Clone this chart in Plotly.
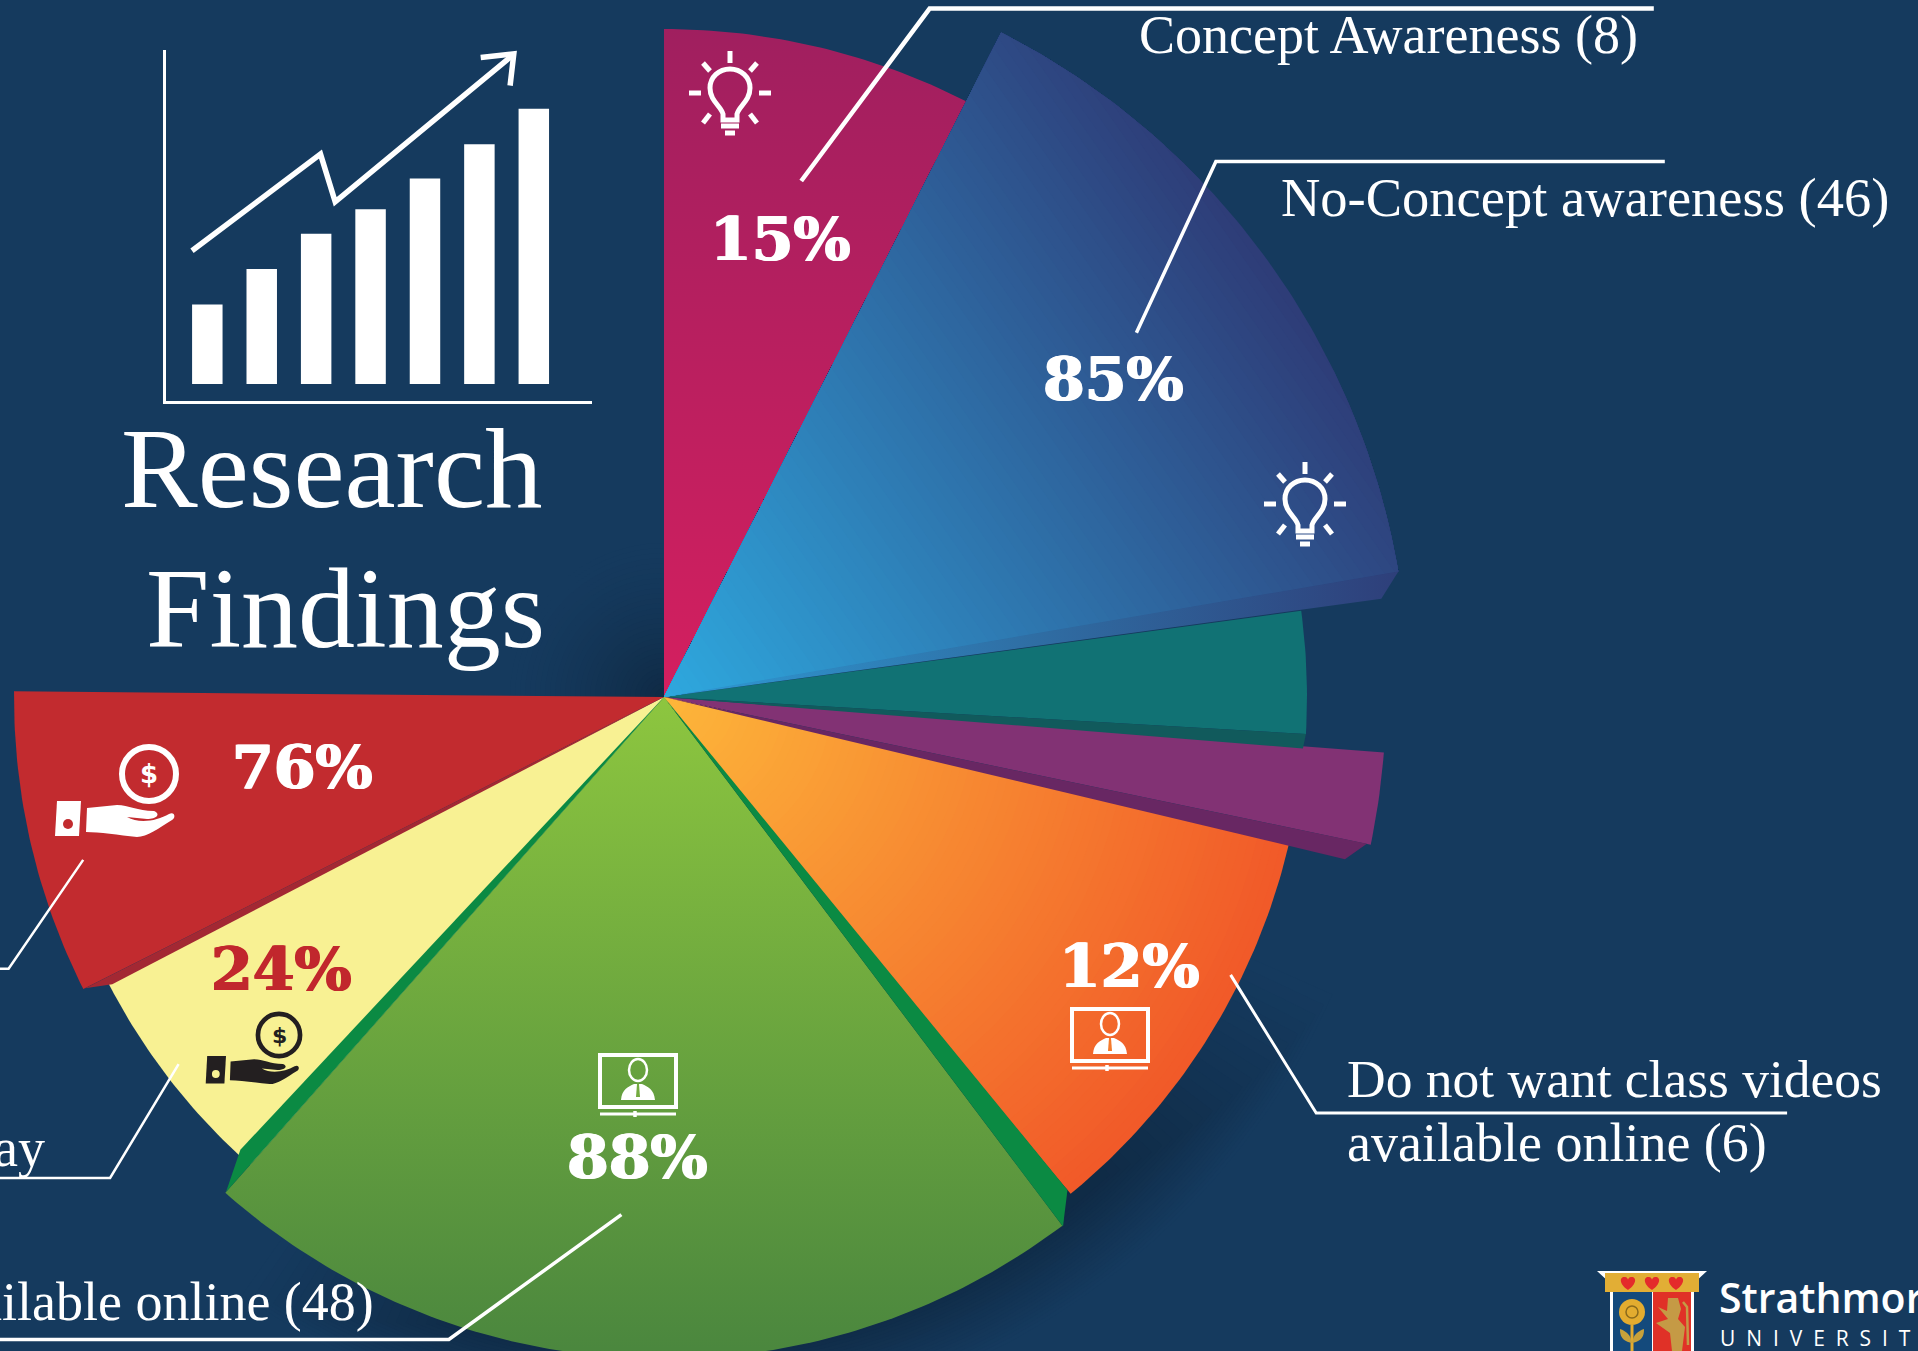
import math
import plotly.graph_objects as go

W, H = 1918, 1351
K = 1918 / 1568  # reduced-view units to page units
CX, CY = 664, 697

# ---- data -----------------------------------------------------------------
slice_names = ["Concept Awareness", "No-Concept awareness", "Teal", "Purple",
               "Do not want class videos", "Want class videos", "Pay", "Red"]
slice_start = [0.0, 26.9, 82.3, 94.4, 102.5, 143.0, 221.5, 243.3]
slice_end = [27.5, 80.3, 93.3, 101.8, 140.7, 221.5, 243.0, 270.5]
slice_radius = [668, 745, 643, 722, 642, 662, 625, 650]
slice_inner = ["#d41f5f", "#2ea9df", "#117274", "#823274", "#fdb73a", "#8dc63f", "#f8f193", "#c22b2f"]
slice_outer = ["#a01f5f", "#2e3d78", "#117274", "#823274", "#f15a29", "#4a863e", "#f8f193", "#c22b2f"]
draw_order = [0, 4, 6, 3, 2, 1, 7, 5]

# Darker side faces: (angle, radius) pairs at the rim, with colour
side_a0 = [80.3, 93.3, 101.8, 243.3, 140.7, 221.5]
side_r0 = [745, 643, 718, 648, 637, 661]
side_a1 = [82.2, 94.6, 103.4, 242.5, 143.0, 223.1]
side_r1 = [724, 641, 700, 622, 663, 620]
side_col = ["#2e4f88", "#115a5c", "#682763", "#a32833", "#0b8a43", "#0b8a43"]

bar_values = [65, 94, 123, 143, 168, 196, 225]
bar_cats = [1, 2, 3, 4, 5, 6, 7]

pct_labels = ["15%", "85%", "76%", "24%", "12%", "88%"]
pct_x = [638, 910, 247, 230, 923, 521]
pct_y = [195, 310, 627, 792, 790, 946]
pct_col = ["white", "white", "white", "#c1272d", "white", "white"]

BG = "#153a5e"
SHADE = "#0f2a45"
SERIF = "Liberation Serif"


def wedge(a0, a1, r):
    n = max(6, int(abs(a1 - a0) * 1.5))
    xs, ys = [CX], [CY]
    for i in range(n + 1):
        a = math.radians(a0 + (a1 - a0) * i / n)
        xs.append(CX + r * math.sin(a))
        ys.append(CY - r * math.cos(a))
    xs.append(CX)
    ys.append(CY)
    return xs, ys


def clip_near(xs, ys, ux, uy, d):
    """Keep the part of a polygon whose projection on (ux, uy) from the hub is <= d."""
    pts = list(zip(xs, ys))
    out = []
    proj = lambda p: (p[0] - CX) * ux + (p[1] - CY) * uy
    for p, q in zip(pts, pts[1:] + pts[:1]):
        pp, pq = proj(p), proj(q)
        if pp <= d:
            out.append(p)
        if (pp <= d) != (pq <= d):
            f = (d - pp) / (pq - pp)
            out.append((p[0] + (q[0] - p[0]) * f, p[1] + (q[1] - p[1]) * f))
    return [p[0] for p in out], [p[1] for p in out]


def mix(c0, c1, t):
    a = [int(c0[i:i + 2], 16) for i in (1, 3, 5)]
    b = [int(c1[i:i + 2], 16) for i in (1, 3, 5)]
    return "#%02x%02x%02x" % tuple(round(p + (q - p) * t) for p, q in zip(a, b))


fig = go.Figure()


def add_poly(xs, ys, color=None, **kw):
    args = dict(x=xs, y=ys, mode="lines", fill="toself", line=dict(width=0),
                hoverinfo="skip", showlegend=False, xaxis="x", yaxis="y")
    if color:
        args["fillcolor"] = color
    args.update(kw)
    fig.add_trace(go.Scatter(**args))


# soft shadow around hub and under the pie, painted from faint to dark
for k in range(30, 0, -1):
    xs, ys = wedge(270, 360, 4 + k * 5)
    add_poly(xs, ys, mix(BG, SHADE, (1 - k / 30) ** 1.5))
for k in range(24, 0, -1):
    xs, ys = wedge(138 - k * 1.0, 196 + k * 0.8, 650 + k * 3.4)
    add_poly(xs, ys, mix(BG, SHADE, 1 - k / 24))

# wedges, painted far to near so the colour ramps have no seams
for i in draw_order:
    a0, a1, r = slice_start[i], slice_end[i], slice_radius[i]
    c0, c1 = slice_inner[i], slice_outer[i]
    if i == 1:
        ux, uy = math.sin(math.radians(55)), -math.cos(math.radians(55))
        for k in range(80, 0, -1):
            t = k / 80
            xs, ys = wedge(a0, a1, r)
            xs, ys = clip_near(xs, ys, ux, uy, r * t)
            add_poly(xs, ys, mix(c0, c1, t))
    elif i == 4:
        for k in range(80, 0, -1):
            t = k / 80
            xs, ys = wedge(a0, a1, r * t)
            add_poly(xs, ys, mix(c0, c1, t))
    elif i in (0, 5):
        xs, ys = wedge(a0, a1, r)
        top, bot = (c1, c0) if i == 0 else (c0, c1)
        add_poly(xs, ys, fillgradient=dict(type="vertical", colorscale=[[0, bot], [1, top]]))
    else:
        xs, ys = wedge(a0, a1, r)
        add_poly(xs, ys, c0)

# side faces
for n, (a0, r0, a1, r1, col) in enumerate(zip(side_a0, side_r0, side_a1, side_r1, side_col)):
    p0 = (CX + r0 * math.sin(math.radians(a0)), CY - r0 * math.cos(math.radians(a0)))
    p1 = (CX + r1 * math.sin(math.radians(a1)), CY - r1 * math.cos(math.radians(a1)))
    if n == 0:
        add_poly([CX, p0[0], p1[0], CX], [CY, p0[1], p1[1], CY],
                 fillgradient=dict(type="horizontal", colorscale=[[0, "#2e9bd6"], [0.5, "#2f6ea4"], [1, "#2e3f7a"]]))
    else:
        add_poly([CX, p0[0], p1[0], CX], [CY, p0[1], p1[1], CY], col)

# inset bar chart with real axes
fig.add_trace(go.Bar(x=bar_cats, y=bar_values, width=0.56, marker=dict(color="white", line_width=0),
                     hoverinfo="skip", showlegend=False, xaxis="x2", yaxis="y2"))

shapes = []


def line(points, width=3.5, color="white"):
    p = "M " + " L ".join(f"{x * K:.1f},{y * K:.1f}" for x, y in points)
    shapes.append(dict(type="path", path=p, xref="x", yref="y",
                       line=dict(color=color, width=width), layer="above"))


# trend arrow
line([(157, 205), (262, 126), (274, 165), (418, 46)], 5.5)
line([(393, 47), (420, 44), (417, 70)], 5.5)

# leader lines
line([(655, 148), (760, 7), (1352, 7)], 4.5)
line([(929, 272), (994, 132), (1361, 132)], 3.5)
line([(1006, 797), (1076, 910), (1461, 910)], 3)
line([(508, 993), (367, 1095), (-5, 1095)], 3.5)
line([(146, 870), (90, 963), (-5, 963)], 2.5)
line([(68, 703), (7, 792), (-5, 792)], 2.5)


def rel_path(cx, cy, s, cmds):
    out = []
    for c in cmds:
        if isinstance(c, str):
            out.append(c)
        else:
            out.append(f"{cx + c[0] * s:.1f},{cy + c[1] * s:.1f}")
    return " ".join(out)


def add_path(cx, cy, s, cmds, stroke=None, fill=None, width=0):
    d = dict(type="path", path=rel_path(cx, cy, s, cmds), xref="x", yref="y", layer="above",
             line=dict(color=stroke or "rgba(0,0,0,0)", width=width))
    if fill:
        d["fillcolor"] = fill
    shapes.append(d)


def ellipse(cx, cy, rx, ry, stroke=None, fill=None, width=0):
    shapes.append(dict(type="circle", xref="x", yref="y", x0=cx - rx, x1=cx + rx, y0=cy - ry, y1=cy + ry,
                       layer="above", fillcolor=fill or "rgba(0,0,0,0)",
                       line=dict(color=stroke or "rgba(0,0,0,0)", width=width)))


def bulb(cx, cy):
    add_path(cx, cy, 1, ["M", (-7, 27), "L", (-7, 21), "C", (-9, 13), (-20, 8), (-20, -5), "C", (-20, -16), (-11, -24), (0, -24),
                         "C", (11, -24), (20, -16), (20, -5), "C", (20, 8), (9, 13), (7, 21), "L", (7, 27), "Z"],
             stroke="white", width=5)
    for seg in [((-9, 33), (9, 33)), ((-5, 40), (5, 40)), ((0, -42), (0, -30)), ((-41, 0), (-29, 0)), ((29, 0), (41, 0)),
                ((-27, -30), (-20, -22)), ((27, -30), (20, -22)), ((-27, 30), (-20, 21)), ((27, 30), (20, 21))]:
        add_path(cx, cy, 1, ["M", seg[0], "L", seg[1]], stroke="white", width=5)


def hand(cx, cy, s, col, bg):
    ellipse(cx, cy, 27 * s, 27 * s, stroke=col, width=6 * s)
    add_path(cx, cy, s, ["M", (-92, 27), "L", (-68, 27), "L", (-70, 62), "L", (-94, 62), "Z"], fill=col)
    ellipse(cx - 81 * s, cy + 50 * s, 5 * s, 5 * s, fill=bg)
    add_path(cx, cy, s, ["M", (-62, 34), "L", (-32, 31), "C", (-20, 31), (-12, 37), (5, 37), "C", (12, 40), (8, 45), (-2, 45),
                         "L", (-22, 43), "C", (-10, 50), (8, 47), (20, 40), "C", (26, 37), (27, 44), (23, 46),
                         "C", (10, 54), (-2, 63), (-12, 63), "C", (-30, 61), (-50, 58), (-63, 58), "Z"], fill=col)


def monitor(cx, cy, panel):
    add_path(cx, cy, 1, ["M", (-38, -26), "L", (38, -26), "L", (38, 26), "L", (-38, 26), "Z"], stroke="white", width=4)
    add_path(cx, cy, 1, ["M", (-38, 33), "L", (38, 33)], stroke="white", width=3)
    add_path(cx, cy, 1, ["M", (-3, 30), "L", (-3, 36)], stroke="white", width=3.5)
    ellipse(cx, cy - 11, 9, 11, stroke="white", width=2.5)
    add_path(cx, cy, 1, ["M", (-17, 19), "C", (-16, 8), (-10, 6), (-4, 3), "L", (4, 3), "C", (10, 6), (16, 8), (17, 19), "Z"], fill="white")
    add_path(cx, cy, 1, ["M", (-1, 3), "L", (1, 3), "L", (2, 16), "L", (-2, 16), "Z"], fill=panel)


bulb(730, 93)
bulb(1305, 504)
hand(149, 774, 1.0, "white", "#c22b2f")
hand(279, 1035, 0.78, "#231f20", "#f8f193")
monitor(638, 1081, "#74ab40")
monitor(1110, 1035, "#f47a2c")

# crest
add_path(0, 0, 1, ["M", (1597, 1271), "L", (1707, 1271), "L", (1694, 1283), "L", (1694, 1351), "L", (1610, 1351), "L", (1610, 1283), "Z"],
         fill="white")
shapes.append(dict(type="rect", xref="x", yref="y", x0=1605, x1=1699, y0=1273, y1=1292, fillcolor="#e2ae35", line_width=0, layer="above"))
shapes.append(dict(type="rect", xref="x", yref="y", x0=1613, x1=1652, y0=1292, y1=1351, fillcolor="#144a7c", line_width=0, layer="above"))
shapes.append(dict(type="rect", xref="x", yref="y", x0=1653, x1=1691, y0=1292, y1=1351, fillcolor="#e03127", line_width=0, layer="above"))
for hx in (1628, 1652, 1676):
    add_path(hx, 1283, 1, ["M", (0, 7), "C", (-10, 0), (-8, -7), (-3, -6), "C", (-1, -6), (0, -4), (0, -3),
                           "C", (0, -4), (1, -6), (3, -6), "C", (8, -7), (10, 0), (0, 7), "Z"], fill="#e42b2b")
ellipse(1632, 1312, 13, 13, fill="#e3ac2f")
ellipse(1632, 1312, 6, 6, stroke="#8a6a1c", width=1.5)
add_path(1632, 1325, 1, ["M", (0, 0), "L", (0, 26)], stroke="#e3ac2f", width=3)
add_path(1632, 1335, 1, ["M", (0, 8), "C", (-12, 6), (-12, -2), (-12, -6), "C", (-6, -4), (-1, 0), (0, 8), "Z"], fill="#c7a13a")
add_path(1632, 1335, 1, ["M", (0, 8), "C", (12, 6), (12, -2), (12, -6), "C", (6, -4), (1, 0), (0, 8), "Z"], fill="#c7a13a")
add_path(1672, 1315, 1, ["M", (-4, -17), "L", (6, -17), "L", (9, -6), "L", (6, 4), "L", (13, 12), "L", (10, 36), "L", (0, 36), "L", (-2, 18),
                         "L", (-16, 8), "L", (-4, 4), "L", (-14, -8), "L", (-5, -4), "Z"], fill="#c59a45")
add_path(1672, 1315, 1, ["M", (16, 30), "L", (15, -8), "L", (11, -13)], stroke="#c59a45", width=2.5)

# annotations
annotations = []


def text(x, y, t, size, anchor="left", color="white", family=SERIF, weight=None, shadow=None):
    f = dict(family=family, size=size, color=color)
    if weight:
        f["weight"] = weight
    if shadow:
        f["shadow"] = shadow
    annotations.append(dict(x=x, y=y, xref="x", yref="y", text=t, showarrow=False, xanchor=anchor, yanchor="middle",
                            font=f, align="left"))


text(331, 468, "Research", 115, "center")
text(345, 608, "Findings", 114, "center")
text(1137, 35, "Concept Awareness (8)", 54)
text(1279, 197, "No-Concept awareness (46)", 54.5)
text(1345, 1079, "Do not want class videos", 53.5)
text(1345, 1143, "available online (6)", 54)
text(376, 1302, "available online (48)", 54, "right")
text(47, 1148, "Pay", 54, "right")
for t, x, y, c in zip(pct_labels, pct_x, pct_y, pct_col):
    text(x * K, y * K, t, 60, "center", c, "DejaVu Serif", 700, f"1px 0 0 {c}, -1px 0 0 {c}")
text(149, 774, "$", 26, "center", "white", "DejaVu Sans", 700)
text(279, 1035, "$", 22, "center", "#231f20", "DejaVu Sans", 700)
text(1717, 1297, "Strathmore", 41, "left", "white", "Open Sans", 600)
text(1718, 1338, "\u00a0\u00a0".join("UNIVERSITY"), 21, "left", "white", "Open Sans")

inset_x0, inset_x1 = 135.5 * K / W, 484 * K / W
inset_y1, inset_y0 = 1 - 41 * K / H, 1 - 328 * K / H

fig.update_layout(
    width=W, height=H, margin=dict(l=0, r=0, t=0, b=0), paper_bgcolor=BG, plot_bgcolor="rgba(0,0,0,0)",
    showlegend=False, shapes=shapes, annotations=annotations,
    xaxis=dict(range=[0, W], visible=False, domain=[0, 1], fixedrange=True),
    yaxis=dict(range=[H, 0], visible=False, domain=[0, 1], fixedrange=True),
    xaxis2=dict(range=[0.236, 8.07], domain=[inset_x0, inset_x1], anchor="y2", showticklabels=False, ticks="",
                showgrid=False, zeroline=False, showline=True, linecolor="white", linewidth=2.5, fixedrange=True),
    yaxis2=dict(range=[-14, 273], domain=[inset_y0, inset_y1], anchor="x2", showticklabels=False, ticks="",
                showgrid=False, zeroline=False, showline=True, linecolor="white", linewidth=2.5, fixedrange=True),
)
fig.write_html("out.html", config={"displayModeBar": False},
               post_script="document.body.style.margin='0';document.documentElement.style.overflow='hidden';")
